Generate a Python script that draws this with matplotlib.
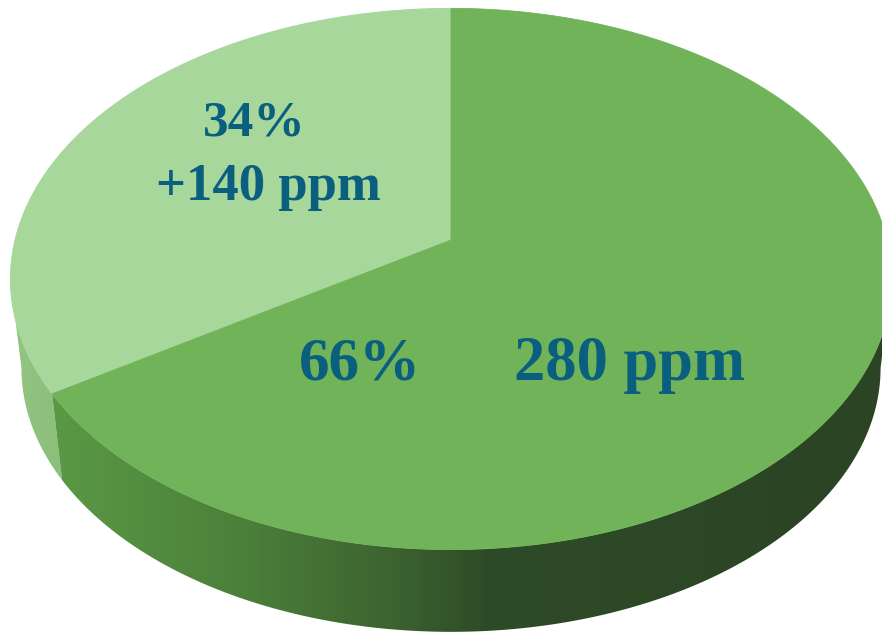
import numpy as np
import matplotlib
matplotlib.use("Agg")
import matplotlib.pyplot as plt
from matplotlib.path import Path
from matplotlib.patches import PathPatch, Polygon
from matplotlib.colors import LinearSegmentedColormap

# ---------------- data ----------------
categories = ["Added since industrialisation", "Pre-industrial"]
shares = [34, 66]                      # percent
pct_labels = ["34%", "66%"]
ppm_labels = ["+140 ppm", "280 ppm"]

# ---------------- layout / style ----------------
W, H = 882, 634
CX, CY = 451, 240          # projected pie centre (top face)
A, B = 436, 265            # projected radii
P = 0.144                  # perspective strength
S_BOT = 0.975              # bottom face scale
CY_BOT = 330               # projected pie centre (bottom face)
START = 90                 # first slice starts at 12 o'clock, counter-clockwise

top_colors = ["#a7d79a", "#70b359"]
side_cmaps = [
    LinearSegmentedColormap.from_list("light", [(0, "#93c783"), (0.1, "#86ba76"), (0.5, "#6a9a5a"), (1, "#5a8a4c")]),
    LinearSegmentedColormap.from_list("dark", [(0, "#60a149"), (0.03, "#5c9c46"), (0.28, "#4b7f3a"),
                                               (0.45, "#3c6230"), (0.55, "#2e4b27"), (1, "#2b4424")]),
]
TEXT = "#0a5f7e"
FONT = "Liberation Serif"


def proj(theta_deg, bottom=False):
    t = np.radians(theta_deg)
    X, Y = np.cos(t), np.sin(t)
    w = 1 + P * Y
    if bottom:
        return CX + S_BOT * A * X / w, CY_BOT - S_BOT * B * Y / w
    return CX + A * X / w, CY - B * Y / w


fig = plt.figure(figsize=(W / 100, H / 100), dpi=100)
ax = fig.add_axes([0, 0, 1, 1])
ax.set_xlim(0, W)
ax.set_ylim(H, 0)
ax.axis("off")

# slice angle ranges from data
total = float(sum(shares))
edges = START + 360 * np.concatenate([[0], np.cumsum(shares)]) / total

# visible front wall range
front_l = 180 + np.degrees(np.arcsin(P))
front_r = 360 - np.degrees(np.arcsin(P))

grad_x = np.linspace(0, 1, 600)[None, :]

for i in range(len(shares)):
    a0, a1 = edges[i], edges[i + 1]
    lo, hi = max(a0, front_l), min(a1, front_r)
    if hi > lo:
        th = np.linspace(lo, hi, 200)
        tx, ty = proj(th)
        bx, by = proj(th[::-1], bottom=True)
        verts = np.column_stack([np.concatenate([tx, bx]), np.concatenate([ty, by])])
        patch = PathPatch(Path(np.vstack([verts, verts[:1]]), closed=True),
                          facecolor="none", edgecolor="none")
        ax.add_patch(patch)
        im = ax.imshow(grad_x, cmap=side_cmaps[i], extent=[0, W, H, 0], aspect="auto",
                       interpolation="bilinear", zorder=1)
        im.set_clip_path(patch)

# top faces
for i in range(len(shares)):
    th = np.linspace(edges[i], edges[i + 1], 400)
    x, y = proj(th)
    verts = np.column_stack([np.concatenate([[CX], x]), np.concatenate([[CY], y])])
    ax.add_patch(Polygon(verts, closed=True, facecolor=top_colors[i],
                         edgecolor=top_colors[i], lw=0.6, zorder=2))

# labels
ax.text(254, 135, pct_labels[0], ha="center", va="baseline", fontsize=37,
        fontweight="bold", color=TEXT, family=FONT, zorder=3)
ax.text(268, 200, ppm_labels[0], ha="center", va="baseline", fontsize=38,
        fontweight="bold", color=TEXT, family=FONT, zorder=3)
ax.text(360, 380, pct_labels[1], ha="center", va="baseline", fontsize=44,
        fontweight="bold", color=TEXT, family=FONT, zorder=3)
ax.text(630, 380, ppm_labels[1], ha="center", va="baseline", fontsize=45,
        fontweight="bold", color=TEXT, family=FONT, zorder=3)

fig.savefig("out.png", dpi=100, facecolor="white")
